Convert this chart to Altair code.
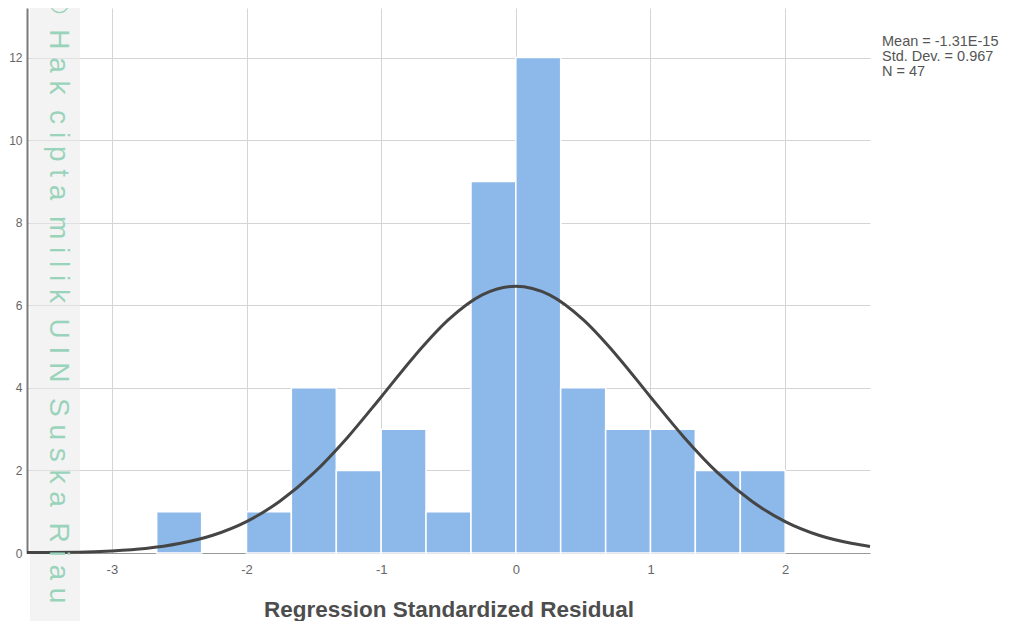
import altair as alt
import pandas as pd

# Histogram bins (regression standardized residual) and frequencies
bin_start = [-2.667, -2.333, -2.0, -1.667, -1.333, -1.0, -0.667, -0.333, 0.0, 0.333, 0.667, 1.0, 1.333, 1.667]
bin_end = [-2.333, -2.0, -1.667, -1.333, -1.0, -0.667, -0.333, 0.0, 0.333, 0.667, 1.0, 1.333, 1.667, 2.0]
counts = [1, 0, 1, 4, 2, 3, 1, 9, 12, 4, 3, 3, 2, 2]

# Normal curve
curve_x = [-3.63, -3.25, -3.0, -2.75, -2.5, -2.25, -2.0, -1.75, -1.5, -1.25, -1.0, -0.75, -0.5, -0.25,
           0.0, 0.25, 0.5, 0.75, 1.0, 1.25, 1.5, 1.75, 2.0, 2.25, 2.5, 2.63]
curve_y = [0.01, 0.02, 0.05, 0.11, 0.23, 0.43, 0.76, 1.26, 1.94, 2.80, 3.78, 4.78, 5.65, 6.25,
           6.46, 6.25, 5.65, 4.78, 3.78, 2.80, 1.94, 1.26, 0.76, 0.43, 0.23, 0.16]

stats_lines = ["Mean = -1.31E-15", "Std. Dev. = 0.967", "N = 47"]
x_ticks = [-3, -2, -1, 0, 1, 2]
y_ticks = [0, 2, 4, 6, 8, 10, 12]
watermark_words = ["©", "Hak", "cipta", "milik", "UIN", "Suska", "Riau"]

NB = "\u00a0"
watermark = (NB * 2).join(NB.join(list(w)) for w in watermark_words)

bars_df = pd.DataFrame({"start": bin_start, "end": bin_end, "count": counts})
bars_df = bars_df[bars_df["count"] > 0]
curve_df = pd.DataFrame({"x": curve_x, "y": curve_y})
stats_df = pd.DataFrame({"t": ["\n".join(stats_lines)]})
one = pd.DataFrame({"t": [watermark]})

W, H = 843, 545
xscale = alt.Scale(domain=[-3.63, 2.63], nice=False, zero=False)
yscale = alt.Scale(domain=[0, 13.2], nice=False)

band = alt.Chart(one).mark_rect(color="#e9e9e9", opacity=0.55, clip=False).encode(
    x=alt.value(3), x2=alt.value(53), y=alt.value(-10), y2=alt.value(640)
)

bars = alt.Chart(bars_df).mark_rect(color="#8db9ea", stroke="white", strokeWidth=1.5).encode(
    x=alt.X("start:Q", scale=xscale,
            axis=alt.Axis(values=x_ticks, title="Regression Standardized Residual", grid=True,
                          labelExpr="datum.value + ''",
                          gridColor="#d4d4d4", ticks=False, domain=True, domainColor="#9a9a9a",
                          labelColor="#666666", labelFontSize=13, labelPadding=10,
                          labelFont="Liberation Sans",
                          titleFont="Liberation Sans", titleFontSize=22.5, titleFontWeight="bold",
                          titleColor="#4d4d4d", titleY=63, titleBaseline="alphabetic")),
    x2="end:Q",
    y=alt.Y("count:Q", scale=yscale,
            axis=alt.Axis(values=y_ticks, title=None, grid=True, gridColor="#d4d4d4",
                          labelExpr="datum.value + ''",
                          ticks=False, domain=True, domainColor="#7a7a7a", domainWidth=2,
                          labelColor="#666666", labelFontSize=12, labelPadding=5,
                          labelFont="Liberation Sans")),
)

curve = alt.Chart(curve_df).mark_line(color="#454545", strokeWidth=3, interpolate="monotone").encode(
    x=alt.X("x:Q", scale=xscale), y=alt.Y("y:Q", scale=yscale)
)

stats = alt.Chart(stats_df).mark_text(
    align="left", baseline="middle", fontSize=14.5, color="#555555", font="Liberation Sans",
    lineBreak="\n", lineHeight=15, clip=False
).encode(x=alt.value(855), y=alt.value(34), text="t:N")

wm = alt.Chart(one).mark_text(
    angle=90, align="left", baseline="middle", fontSize=28, color="#9ad3bb",
    font="Liberation Sans", clip=False
).encode(x=alt.value(31), y=alt.value(-15), text="t:N")

chart = alt.layer(band, bars, curve, stats, wm).properties(
    width=W, height=H,
    background="white",
    autosize=alt.AutoSizeParams(type="none"),
    padding={"left": 19, "top": 0, "right": 130, "bottom": 68},
).configure_view(strokeWidth=0)

chart.save("out.html", embed_options={"renderer": "svg", "actions": False})
